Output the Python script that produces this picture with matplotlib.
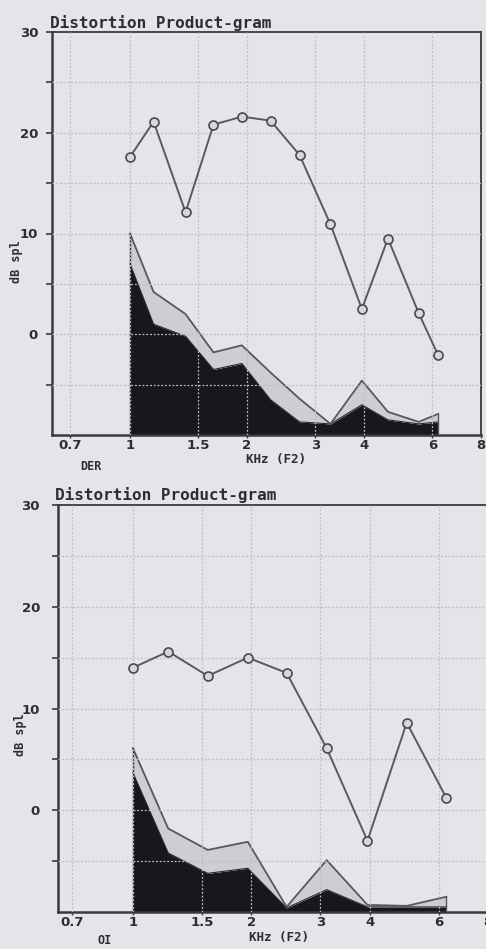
import matplotlib
matplotlib.use("Agg")
import matplotlib.pyplot as plt
from matplotlib.ticker import FixedLocator, NullLocator

# ---------------- data ----------------
# Upper panel (DER)
der_freq = [1.0, 1.15, 1.39, 1.64, 1.94, 2.30, 2.73, 3.28, 3.95, 4.61, 5.53, 6.21]
der_dp = [17.6, 21.1, 12.1, 20.8, 21.6, 21.2, 17.8, 10.9, 2.5, 9.5, 2.1, -2.1]
der_noise_hi = [10.0, 4.2, 2.0, -1.8, -1.1, -3.8, -6.4, -8.9, -4.6, -7.7, -8.7, -7.9]
der_noise_lo = [7.0, 1.0, -0.2, -3.5, -2.9, -6.5, -8.7, -8.9, -7.0, -8.5, -8.9, -8.7]

# Lower panel (OI)
oi_freq = [1.0, 1.23, 1.55, 1.96, 2.46, 3.11, 3.95, 4.97, 6.27]
oi_dp = [14.0, 15.6, 13.2, 15.0, 13.5, 6.1, -3.0, 8.6, 1.2]
oi_noise_hi = [6.1, -1.8, -3.9, -3.1, -9.5, -4.9, -9.3, -9.4, -8.5]
oi_noise_lo = [3.7, -4.2, -6.2, -5.7, -9.6, -7.8, -9.5, -9.5, -9.5]

x_ticks = [0.7, 1, 1.5, 2, 3, 4, 6, 8]
x_ticklabels = ["0.7", "1", "1.5", "2", "3", "4", "6", "8"]
y_major = [0, 10, 20, 30]
y_minor = [-5, 5, 15, 25]
title = "Distortion Product-gram"
x_label = "KHz (F2)"
y_label = "dB spl"

# ---------------- style ----------------
W, H = 486, 949
BG = "#e3e5e9"
fig = plt.figure(figsize=(W / 100, H / 100), dpi=100, facecolor=BG)

def px_rect(l, r, t, b):
    return [l / W, 1 - b / H, (r - l) / W, (b - t) / H]

def draw_panel(rect, xlim, freq, dp, hi, lo, ear, ear_xy, title_xy, xlab_xy, ylab_xy, ypad):
    ax = fig.add_axes(rect)
    ax.set_facecolor(BG)
    ax.set_xscale("log")
    ax.set_xlim(*xlim)
    ax.set_ylim(-10, 30)

    ax.fill_between(freq, -10, lo, color="#18181c", lw=0, zorder=2)
    ax.fill_between(freq, lo, hi, color="#cdced1", lw=0, zorder=2)
    ax.plot(freq, lo, color="#2a2a2e", lw=0.8, zorder=3)
    ax.plot(freq, hi, color="#58585c", lw=1.3, zorder=3)
    ax.plot([freq[0], freq[0]], [-10, hi[0]], color="#2a2a2e", lw=1.0, zorder=3)
    ax.plot([freq[-1], freq[-1]], [-10, hi[-1]], color="#58585c", lw=1.0, zorder=3)

    # grid drawn above fills
    for x in x_ticks[:-1]:
        ax.axvline(x, color="#bdbec2", lw=0.9, ls=(0, (1.5, 1.5)), zorder=4)
    for y in [-5, 0, 5, 10, 15, 20, 25]:
        ax.axhline(y, color="#bdbec2", lw=0.9, ls=(0, (1.5, 1.5)), zorder=4)

    ax.plot(freq, dp, color="#5a5a5e", lw=1.4, marker="o", ms=6.5,
            mfc="#d6d7da", mec="#4a4a4e", mew=1.2, zorder=6)

    ax.xaxis.set_major_locator(FixedLocator(x_ticks))
    ax.xaxis.set_minor_locator(NullLocator())
    ax.set_xticklabels(x_ticklabels, fontsize=9.5, fontweight="bold",
                       family="DejaVu Sans", color="#2e2e32")
    ax.yaxis.set_major_locator(FixedLocator(y_major))
    ax.yaxis.set_minor_locator(FixedLocator(y_minor))
    ax.set_yticklabels([str(v) for v in y_major], fontsize=9.5, fontweight="bold",
                       family="DejaVu Sans", color="#2e2e32")
    ax.tick_params(axis="y", which="both", direction="out", length=4, width=1.2,
                   color="#3a3a3e", pad=ypad)
    ax.tick_params(axis="x", which="both", direction="out", length=2, width=1.0,
                   color="#3a3a3e", pad=1)
    for s in ax.spines.values():
        s.set_color("#3a3a3e")
        s.set_linewidth(1.3)
    ax.spines["left"].set_linewidth(1.8)
    ax.spines["bottom"].set_linewidth(1.8)

    fig.text(title_xy[0] / W, 1 - title_xy[1] / H, title, fontsize=11.5,
             fontweight="bold", family="DejaVu Sans Mono", color="#2e2e32",
             ha="left", va="baseline")
    fig.text(xlab_xy[0] / W, 1 - xlab_xy[1] / H, x_label, fontsize=9,
             fontweight="bold", family="DejaVu Sans Mono", color="#2e2e32",
             ha="center", va="center")
    fig.text(ear_xy[0] / W, 1 - ear_xy[1] / H, ear, fontsize=8.5,
             fontweight="bold", family="DejaVu Sans Mono", color="#2e2e32",
             ha="center", va="center")
    fig.text(ylab_xy[0] / W, 1 - ylab_xy[1] / H, y_label, fontsize=8.5,
             fontweight="bold", family="DejaVu Sans Mono", color="#2e2e32",
             ha="center", va="center", rotation=90)
    return ax

draw_panel(px_rect(52, 481, 32, 435), (0.63, 8.0), der_freq, der_dp,
           der_noise_hi, der_noise_lo, "DER", (91, 467), (50, 28),
           (276, 459), (16, 262), 6)
draw_panel(px_rect(58, 488, 505, 912), (0.645, 8.0), oi_freq, oi_dp,
           oi_noise_hi, oi_noise_lo, "OI", (105, 941), (55, 500),
           (279, 937), (20, 735), 9)

fig.savefig("out.png", dpi=100, facecolor=BG)
